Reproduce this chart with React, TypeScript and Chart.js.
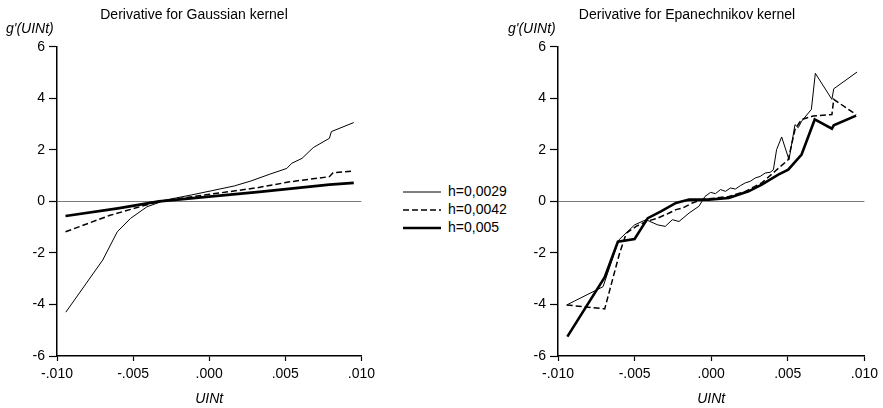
import React, { useEffect, useRef } from "react";
import { Chart, registerables } from "chart.js";

Chart.register(...registerables);

// ---------- tick labels ----------
const xTickLabels = ["-.010", "-.005", ".000", ".005", ".010"];
const yTickLabels = ["-6", "-4", "-2", "0", "2", "4", "6"];
const seriesNames = ["h=0,0029", "h=0,0042", "h=0,005"];

// ---------- Gaussian kernel ----------
const gaussX_0029 = [-0.00942, -0.0070, -0.00604, -0.00517, -0.00409, -0.00333, -0.0029, -0.00117, 0.00013, 0.00165, 0.00273, 0.0040, 0.0051, 0.00543, 0.0061, 0.00684, 0.0079, 0.00803, 0.0095];
const gaussY_0029 = [-4.30, -2.28, -1.18, -0.66, -0.21, -0.05, 0.05, 0.25, 0.41, 0.60, 0.79, 1.06, 1.28, 1.48, 1.67, 2.09, 2.45, 2.71, 3.06];

const gaussX_0042 = [-0.00944, -0.00657, -0.00333, 0.00316, 0.0053, 0.0079, 0.00814, 0.0095];
const gaussY_0042 = [-1.18, -0.55, 0.0, 0.53, 0.76, 0.96, 1.11, 1.18];

const gaussX_005 = [-0.00944, -0.0060, -0.0033, 0.0033, 0.0079, 0.0095];
const gaussY_005 = [-0.57, -0.27, 0.0, 0.37, 0.65, 0.72];

// ---------- Epanechnikov kernel ----------
const epaX_0029 = [-0.00943, -0.00706, -0.00602, -0.0050, -0.00425, -0.0035, -0.0030, -0.00253, -0.0021, -0.00144, -0.0008, -0.00041, -0.00004, 0.00028, 0.00061, 0.00093, 0.00126, 0.00158, 0.0019, 0.00223, 0.00255, 0.00288, 0.0032, 0.00352, 0.00385, 0.00406, 0.00427, 0.0046, 0.00508, 0.00547, 0.00568, 0.0059, 0.00654, 0.0068, 0.00788, 0.0080, 0.00952];
const epaY_0029 = [-4.02, -3.31, -1.49, -0.91, -0.71, -0.91, -0.97, -0.71, -0.78, -0.45, -0.19, 0.19, 0.35, 0.30, 0.46, 0.39, 0.52, 0.48, 0.61, 0.72, 0.78, 0.91, 0.97, 1.10, 1.13, 1.23, 2.01, 2.50, 1.62, 2.98, 2.86, 3.11, 3.57, 4.97, 3.96, 4.37, 5.02];

const epaX_0042 = [-0.00943, -0.00695, -0.00598, -0.00554, -0.0049, -0.00425, -0.0035, -0.00274, -0.0023, -0.00188, -0.00123, -0.00058, 0.00115, 0.00223, 0.0033, 0.00417, 0.00503, 0.00547, 0.0059, 0.00665, 0.00788, 0.0080, 0.00946];
const epaY_0042 = [-4.02, -4.17, -2.01, -1.23, -0.97, -0.78, -0.65, -0.45, -0.32, -0.26, -0.06, 0.07, 0.19, 0.39, 0.72, 1.17, 1.62, 2.79, 3.18, 3.31, 3.37, 3.96, 3.37];

const epaX_005 = [-0.00939, -0.00695, -0.00609, -0.0050, -0.00414, -0.00328, -0.0023, -0.00144, -0.00015, 0.00115, 0.00244, 0.0033, 0.00438, 0.00503, 0.0059, 0.00676, 0.00788, 0.0080, 0.00946];
const epaY_005 = [-5.25, -2.94, -1.56, -1.46, -0.65, -0.39, -0.06, 0.07, 0.07, 0.13, 0.39, 0.65, 1.04, 1.23, 1.82, 3.18, 2.82, 2.95, 3.33];

const FONT = '"Liberation Sans", Arial, sans-serif';

function pts(xs: number[], ys: number[]) {
  return xs.map((x, i) => ({ x, y: ys[i] }));
}

function makeDatasets(x1: number[], y1: number[], x2: number[], y2: number[], x3: number[], y3: number[]) {
  return [
    { label: seriesNames[0], data: pts(x1, y1), borderColor: "#000", borderWidth: 1, pointRadius: 0, tension: 0, fill: false },
    { label: seriesNames[1], data: pts(x2, y2), borderColor: "#000", borderWidth: 1.5, borderDash: [6, 3], pointRadius: 0, tension: 0, fill: false },
    { label: seriesNames[2], data: pts(x3, y3), borderColor: "#000", borderWidth: 2.6, pointRadius: 0, tension: 0, fill: false },
  ];
}

function yLabelPlugin(x: number) {
  return {
    id: "yLabelTop",
    afterDraw(chart: any) {
      const ctx = chart.ctx;
      ctx.save();
      ctx.font = `italic 14px ${FONT}`;
      ctx.fillStyle = "#000";
      ctx.textBaseline = "middle";
      ctx.textAlign = "left";
      ctx.fillText("g'(UINt)", x, 29);
      ctx.restore();
    },
  };
}

function makeConfig(title: string, datasets: any[], padLeft: number, yWidth: number, padRight: number, labelX: number): any {
  return {
    type: "line",
    data: { datasets },
    options: {
      animation: false,
      responsive: false,
      maintainAspectRatio: false,
      layout: { padding: { left: padLeft, right: padRight, top: 0, bottom: 0 } },
      plugins: {
        legend: { display: false },
        tooltip: { enabled: false },
        title: {
          display: true,
          text: title,
          color: "#000",
          font: { family: FONT, size: 14, weight: "normal" },
          padding: { top: 7, bottom: 23 },
        },
      },
      scales: {
        x: {
          type: "linear",
          min: -0.01,
          max: 0.01,
          afterFit: (s: any) => { s.height = 52; },
          ticks: {
            stepSize: 0.005,
            maxRotation: 0,
            autoSkip: false,
            color: "#000",
            padding: 5,
            font: { family: FONT, size: 14 },
            callback: (_v: any, i: number) => xTickLabels[i],
          },
          grid: { drawOnChartArea: false, drawTicks: true, tickLength: 5, tickColor: "#000", tickWidth: 1.2 },
          border: { display: true, color: "#000", width: 1.5 },
          title: {
            display: true,
            text: "UINt",
            color: "#000",
            font: { family: FONT, size: 14, style: "italic" },
            padding: { top: 0, bottom: 0 },
          },
        },
        y: {
          type: "linear",
          min: -6,
          max: 6,
          afterFit: (s: any) => { s.width = yWidth; },
          ticks: {
            stepSize: 2,
            color: "#000",
            padding: 4,
            font: { family: FONT, size: 14 },
            callback: (_v: any, i: number) => yTickLabels[i],
          },
          grid: {
            drawOnChartArea: true,
            drawTicks: true,
            tickLength: 8,
            tickColor: "#000",
            tickWidth: 1.2,
            color: (c: any) => (c.tick && c.tick.value === 0 ? "#7a7a7a" : "rgba(0,0,0,0)"),
            lineWidth: 1,
          },
          border: { display: true, color: "#000", width: 1.5 },
        },
      },
    },
    plugins: [yLabelPlugin(labelX)],
  };
}

function ChartCanvas({ config, width, height, left }: { config: () => any; width: number; height: number; left: number }) {
  const ref = useRef<HTMLCanvasElement | null>(null);
  useEffect(() => {
    if (!ref.current) return;
    const chart = new Chart(ref.current, config());
    return () => chart.destroy();
  }, []);
  return (
    <canvas
      ref={ref}
      width={width}
      height={height}
      style={{ position: "absolute", left, top: 0, width, height }}
    />
  );
}

function Legend() {
  const rows = [
    { dash: "", w: 1 },
    { dash: "6 3", w: 1.5 },
    { dash: "", w: 2.6 },
  ];
  return (
    <svg width={110} height={60} style={{ position: "absolute", left: 400, top: 180 }}>
      {rows.map((r, i) => (
        <g key={i}>
          <line x1={3} x2={41} y1={12 + i * 18} y2={12 + i * 18} stroke="#000" strokeWidth={r.w} strokeDasharray={r.dash || undefined} />
          <text x={48} y={12 + i * 18} dominantBaseline="middle" fontFamily={FONT} fontSize={14} fill="#000">
            {seriesNames[i]}
          </text>
        </g>
      ))}
    </svg>
  );
}

export default function App() {
  const leftCfg = () =>
    makeConfig(
      "Derivative for Gaussian kernel",
      makeDatasets(gaussX_0029, gaussY_0029, gaussX_0042, gaussY_0042, gaussX_005, gaussY_005),
      22, 35, 14, 6
    );
  const rightCfg = () =>
    makeConfig(
      "Derivative for Epanechnikov kernel",
      makeDatasets(epaX_0029, epaY_0029, epaX_0042, epaY_0042, epaX_005, epaY_005),
      7, 51, 16, 8
    );
  return (
    <div style={{ position: "fixed", left: 0, top: 0, width: 883, height: 408, background: "#fff", overflow: "hidden" }}>
      <ChartCanvas config={leftCfg} width={380} height={408} left={0} />
      <Legend />
      <ChartCanvas config={rightCfg} width={383} height={408} left={500} />
    </div>
  );
}
